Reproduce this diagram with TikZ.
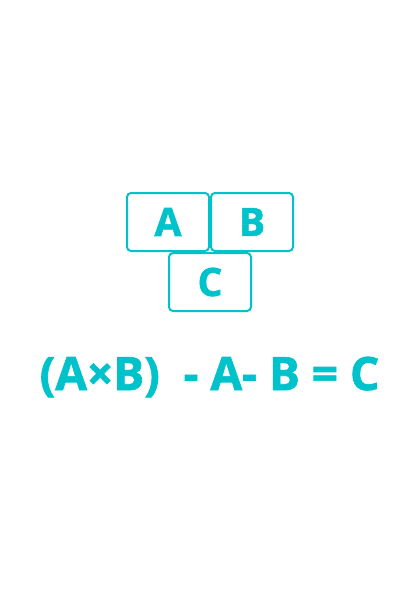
\documentclass[tikz,border=0pt]{standalone}
\usepackage{fontspec}
\setmainfont{Open Sans}[BoldFeatures={FakeBold=1.5}]
\definecolor{tealc}{HTML}{00C2CB}
\begin{document}
\begin{tikzpicture}[x=1pt,y=-1pt,
  cell/.style={draw=tealc,line width=2pt,rounded corners=4pt,minimum width=82pt,minimum height=58pt,inner sep=0pt,text=tealc,font=\fontsize{39}{39}\selectfont\bfseries},
  eq/.style={text=tealc,inner sep=0pt,font=\fontsize{46}{46}\selectfont\bfseries}]
\useasboundingbox (0,0) rectangle (420,594);
\node[cell] (a) at (168,222) {A};
\node[cell] (b) at (252,222) {B};
\node[cell] (c) at (210,282) {C};
\node[eq] (e) at (209.5,377) {(A×B)\ \ - A- B = C};
\end{tikzpicture}
\end{document}
